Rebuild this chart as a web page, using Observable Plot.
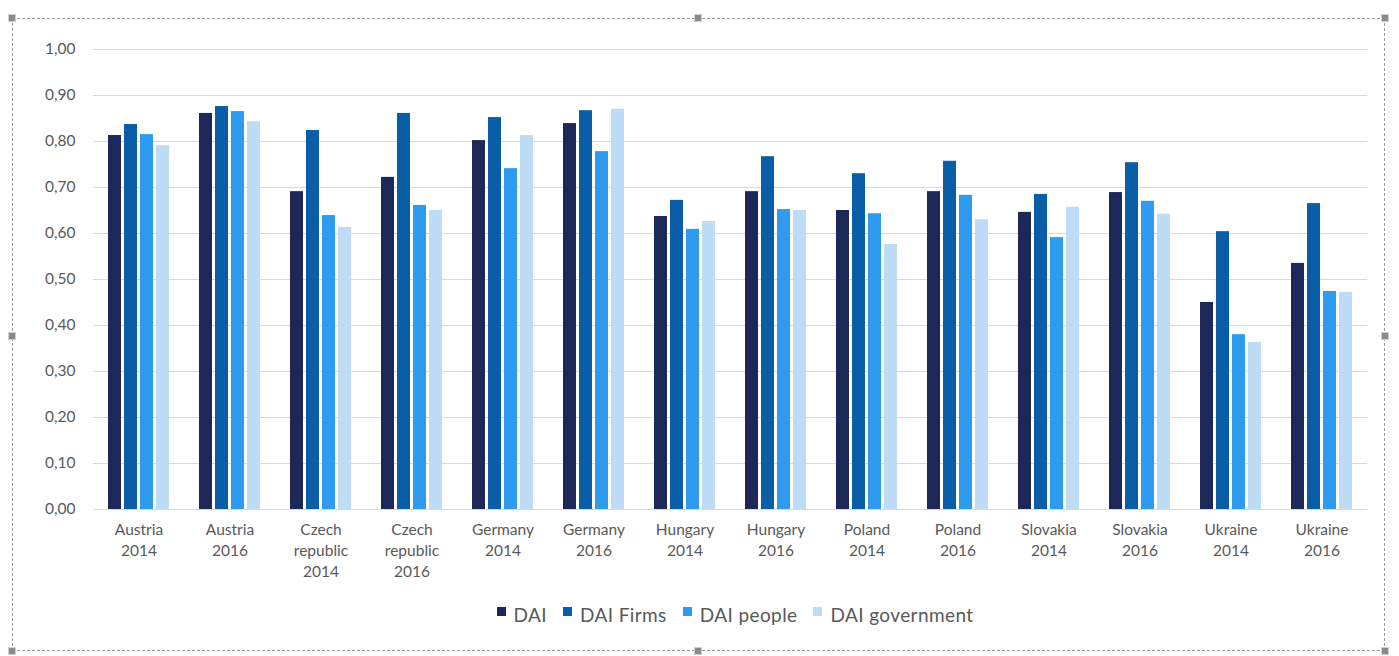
<!DOCTYPE html>
<html>
<head>
<meta charset="utf-8">
<script src="https://cdn.jsdelivr.net/npm/d3@7"></script>
<script src="https://cdn.jsdelivr.net/npm/@observablehq/plot@0.6"></script>
<style>
  html, body { margin: 0; padding: 0; background: #fff; }
  body { width: 1399px; height: 656px; position: relative; overflow: hidden; font-family: Lato, "Open Sans", sans-serif; }
  #frame { position: absolute; left: 12px; top: 18px; width: 1373px; height: 633px; border: 1px dashed #9a9a9a; box-sizing: border-box; }
  .h { position: absolute; width: 8px; height: 8px; background: #8a8a8a; border: 1px solid #cfcfcf; box-sizing: border-box; }
  #chart { position: absolute; left: 0; top: 0; }
  #legend { position: absolute; left: 0; top: 603px; width: 1470px; display: flex; justify-content: center; align-items: center; font-size: 19px; letter-spacing: 0.4px; color: #595959; }
  #legend .item { display: flex; align-items: flex-start; margin: 0 8px; }
  #legend .sw { width: 9px; height: 9px; margin-right: 8px; margin-top: 4px; }
</style>
</head>
<body>
<div id="frame"></div>
<div id="chart"></div>
<div id="legend"></div>
<script>
const categories = ["Austria 2014", "Austria 2016", "Czech republic 2014", "Czech republic 2016",
  "Germany 2014", "Germany 2016", "Hungary 2014", "Hungary 2016", "Poland 2014", "Poland 2016",
  "Slovakia 2014", "Slovakia 2016", "Ukraine 2014", "Ukraine 2016"];
const tickLabels = ["Austria\n2014", "Austria\n2016", "Czech\nrepublic\n2014", "Czech\nrepublic\n2016",
  "Germany\n2014", "Germany\n2016", "Hungary\n2014", "Hungary\n2016", "Poland\n2014", "Poland\n2016",
  "Slovakia\n2014", "Slovakia\n2016", "Ukraine\n2014", "Ukraine\n2016"];
const series = ["DAI", "DAI Firms", "DAI people", "DAI government"];
const dai        = [0.813, 0.861, 0.691, 0.722, 0.802, 0.839, 0.637, 0.691, 0.650, 0.691, 0.646, 0.689, 0.450, 0.535];
const daiFirms   = [0.837, 0.876, 0.824, 0.861, 0.852, 0.867, 0.672, 0.767, 0.730, 0.757, 0.685, 0.754, 0.604, 0.665];
const daiPeople  = [0.815, 0.865, 0.639, 0.661, 0.741, 0.778, 0.609, 0.652, 0.643, 0.683, 0.591, 0.670, 0.380, 0.474];
const daiGov     = [0.791, 0.843, 0.613, 0.650, 0.813, 0.870, 0.626, 0.650, 0.576, 0.630, 0.657, 0.642, 0.363, 0.472];
const yTicks = [0, 0.1, 0.2, 0.3, 0.4, 0.5, 0.6, 0.7, 0.8, 0.9, 1.0];
const colors = ["#1e2858", "#0a5ea7", "#2e9bef", "#bedcf5"];

const valuesBySeries = [dai, daiFirms, daiPeople, daiGov];
const data = [];
categories.forEach((c, i) => series.forEach((s, j) => data.push({cat: c, series: s, value: valuesBySeries[j][i]})));
const labelOf = new Map(categories.map((c, i) => [c, tickLabels[i]]));

const chart = Plot.plot({
  width: 1399,
  height: 595,
  marginLeft: 88,
  marginRight: 27,
  marginTop: 49,
  marginBottom: 86,
  style: {fontFamily: "Lato, 'Open Sans', sans-serif", background: "transparent"},
  fx: {domain: categories, padding: 0, label: null},
  x: {domain: series, paddingInner: 0.21, paddingOuter: 0.885, axis: null},
  y: {domain: [0, 1], label: null},
  color: {domain: series, range: colors},
  marks: [
    Plot.gridY(yTicks, {stroke: "#d9d9d9", strokeOpacity: 1, strokeWidth: 1}),
    Plot.axisY(yTicks, {tickSize: 0, tickPadding: 18, fontSize: 15.5, fill: "#595959",
      tickFormat: d => d.toFixed(2).replace(".", ","), label: null}),
    Plot.barY(data, {fx: "cat", x: "series", y: "value", fill: "series"}),
    Plot.axisFx({anchor: "bottom", tickSize: 0, tickPadding: 11, fontSize: 15.5, fill: "#595959", lineHeight: 1.35,
      tickFormat: d => labelOf.get(d), label: null})
  ]
});
document.getElementById("chart").appendChild(chart);

const legend = document.getElementById("legend");
series.forEach((s, j) => {
  const item = document.createElement("div");
  item.className = "item";
  const sw = document.createElement("div");
  sw.className = "sw";
  sw.style.background = colors[j];
  const t = document.createElement("span");
  t.textContent = s;
  item.appendChild(sw);
  item.appendChild(t);
  legend.appendChild(item);
});

const handles = [[12, 18], [698, 18], [1385, 18], [12, 336], [1385, 336], [12, 651], [698, 651], [1385, 651]];
handles.forEach(([x, y]) => {
  const h = document.createElement("div");
  h.className = "h";
  h.style.left = (x - 4) + "px";
  h.style.top = (y - 4) + "px";
  document.body.appendChild(h);
});
</script>
</body>
</html>
